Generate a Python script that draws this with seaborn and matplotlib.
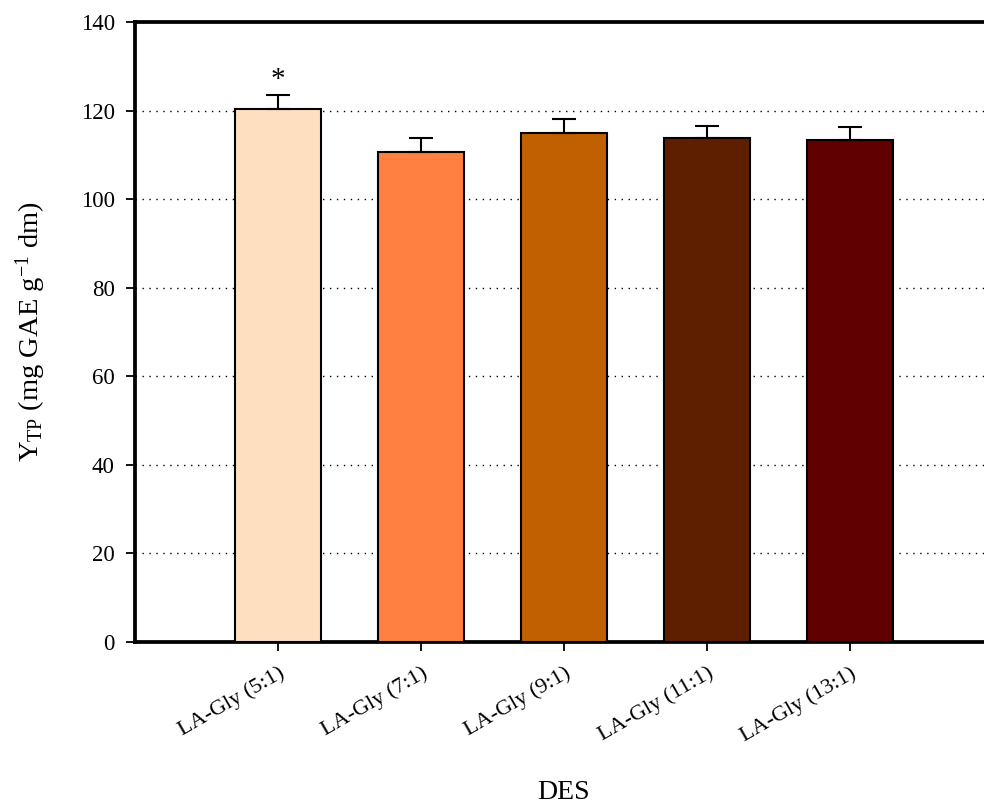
import matplotlib
matplotlib.use("Agg")
import matplotlib.pyplot as plt
import seaborn as sns
import pandas as pd
import numpy as np

categories = ["LA-Gly (5:1)", "LA-Gly (7:1)", "LA-Gly (9:1)", "LA-Gly (11:1)", "LA-Gly (13:1)"]
values = [120.4, 110.7, 115.0, 113.8, 113.4]
errors = [3.1, 3.0, 3.2, 2.8, 2.9]
colors = ["#FEDFC0", "#FF8040", "#C06000", "#5E1F00", "#600000"]
yticks = [0, 20, 40, 60, 80, 100, 120, 140]

sns.set_theme(style="white")
plt.rcParams["font.family"] = ["Liberation Serif", "DejaVu Serif"]
plt.rcParams["mathtext.fontset"] = "custom"
plt.rcParams["mathtext.rm"] = "Liberation Serif"
plt.rcParams["mathtext.it"] = "Liberation Serif:italic"
plt.rcParams["text.color"] = "black"
plt.rcParams["axes.labelcolor"] = "black"
plt.rcParams["xtick.color"] = "black"
plt.rcParams["ytick.color"] = "black"

df = pd.DataFrame({"DES": categories, "val": values})

fig = plt.figure(figsize=(9.84, 8.07), dpi=100)
ax = fig.add_axes([135/984, (807-642)/807, (993-135)/984, 620/807])

sns.barplot(data=df, x="DES", y="val", hue="DES", palette=colors, legend=False,
            width=0.6, edgecolor="black", linewidth=1.5, saturation=1, ax=ax, zorder=3)
ax.errorbar(np.arange(len(values)), values, yerr=[np.zeros(len(errors)), errors],
            fmt="none", ecolor="black", elinewidth=1.5, capsize=8.5, capthick=1.5, zorder=4)
ax.text(0, values[0] + errors[0] + 3.3, "*", ha="center", va="center", fontsize=21, color="black")

ax.set_xlim(-1, 5)
ax.set_ylim(0, 140)
ax.set_yticks(yticks)
ax.yaxis.grid(True, linestyle=(0, (1, 4)), color="black", linewidth=1.0, zorder=0)
ax.set_axisbelow(True)

for s in ["left", "bottom", "top", "right"]:
    ax.spines[s].set_visible(True)
    ax.spines[s].set_color("black")
    ax.spines[s].set_linewidth(2.7)

ax.tick_params(axis="both", direction="out", length=6.5, width=1.3, color="black",
               bottom=True, left=True)
ax.tick_params(axis="y", labelsize=16.5, pad=8)
ax.tick_params(axis="x", labelsize=16, pad=9)
for lab in ax.get_xticklabels():
    lab.set_rotation(30)
    lab.set_ha("right")
    lab.set_va("top")
    lab.set_rotation_mode("anchor")

ax.set_xlabel("DES", fontsize=20, va="top")
ax.xaxis.set_label_coords(0.5, (642 - 780) / 620)
ax.set_ylabel(r"Y$_{\mathrm{TP}}$ (mg GAE g$^{\mathrm{-1}}$ dm)", fontsize=20.5, va="center")
ax.yaxis.set_label_coords((31 - 135) / 858, 0.5)

fig.savefig("out.png", dpi=100)
